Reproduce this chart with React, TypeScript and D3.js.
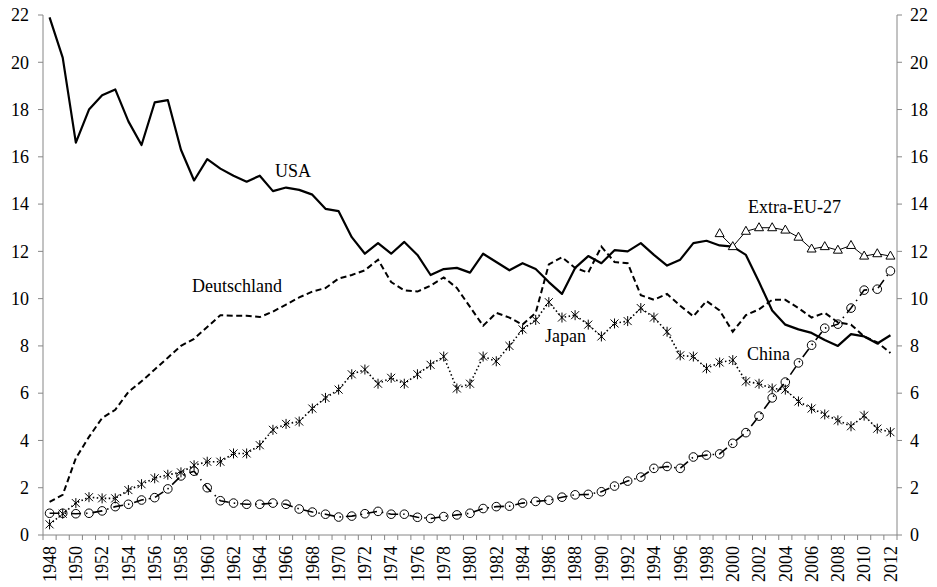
import React from 'react';
import * as d3 from 'd3';

const years = d3.range(1948, 2013);

const usa = [
  21.9, 20.2, 16.6, 18.0, 18.6, 18.85, 17.5, 16.5, 18.3, 18.4, 16.3, 15.0, 15.9, 15.5, 15.2, 14.95,
  15.2, 14.55, 14.7, 14.6, 14.4, 13.8, 13.7, 12.6, 11.9, 12.35, 11.9, 12.4, 11.85, 11.0, 11.25, 11.3,
  11.1, 11.9, 11.55, 11.2, 11.5, 11.25, 10.7, 10.2, 11.3, 11.8, 11.5, 12.05, 12.0, 12.35, 11.85, 11.4,
  11.65, 12.35, 12.45, 12.25, 12.2, 11.85, 10.7, 9.5, 8.9, 8.7, 8.55, 8.25, 8.0, 8.5, 8.4, 8.1, 8.45
];

const deutschland = [
  1.4, 1.7, 3.25, 4.15, 4.95, 5.3, 6.05, 6.5, 7.0, 7.5, 8.0, 8.3, 8.8, 9.3, 9.28, 9.28,
  9.22, 9.45, 9.75, 10.05, 10.3, 10.45, 10.85, 11.0, 11.2, 11.65, 10.7, 10.35, 10.3, 10.55, 10.9, 10.45,
  9.65, 8.85, 9.4, 9.2, 8.9, 9.4, 11.45, 11.75, 11.3, 11.1, 12.2, 11.55, 11.5, 10.15, 9.95, 10.2,
  9.7, 9.25, 9.9, 9.5, 8.6, 9.3, 9.55, 9.95, 9.95, 9.6, 9.2, 9.4, 9.0, 8.9, 8.4, 8.15, 7.7
];

const japan = [
  0.45, 0.9, 1.35, 1.6, 1.55, 1.55, 1.9, 2.15, 2.4, 2.55, 2.65, 2.95, 3.1, 3.1, 3.45, 3.45,
  3.8, 4.45, 4.7, 4.8, 5.35, 5.8, 6.15, 6.8, 7.0, 6.4, 6.65, 6.4, 6.8, 7.2, 7.55, 6.2,
  6.4, 7.55, 7.35, 8.0, 8.7, 9.1, 9.85, 9.2, 9.3, 8.9, 8.4, 8.95, 9.05, 9.6, 9.2, 8.6,
  7.6, 7.55, 7.05, 7.3, 7.4, 6.5, 6.4, 6.2, 6.15, 5.65, 5.35, 5.1, 4.85, 4.6, 5.05, 4.5, 4.35
];

const china = [
  0.92, 0.92, 0.9, 0.92, 1.02, 1.2, 1.3, 1.48, 1.58, 1.95, 2.5, 2.7, 2.0, 1.45, 1.35, 1.3,
  1.3, 1.35, 1.3, 1.1, 0.97, 0.88, 0.76, 0.8, 0.9, 1.0, 0.88, 0.88, 0.75, 0.7, 0.78, 0.85,
  0.92, 1.12, 1.2, 1.22, 1.35, 1.42, 1.47, 1.6, 1.7, 1.72, 1.83, 2.07, 2.28, 2.45, 2.82, 2.9,
  2.82, 3.3, 3.38, 3.43, 3.88, 4.33, 5.03, 5.8, 6.47, 7.28, 8.03, 8.75, 8.92, 9.6, 10.36, 10.4, 11.17
];

const extraEUYears = d3.range(1999, 2013);
const extraEU = [12.75, 12.2, 12.85, 13.0, 13.0, 12.9, 12.6, 12.1, 12.2, 12.05, 12.25, 11.8, 11.9, 11.8];

const yTicks = d3.range(0, 23, 2);
const yearLabels = years.filter(y => y % 2 === 0);

const W = 937, H = 587;
const left = 43, right = 897, top = 15, bottom = 535;
const axisColor = '#868686';
const font = '"Liberation Serif", "Times New Roman", serif';

export default function App() {
  const x = d3.scaleBand<number>().domain(years).range([left, right]).padding(0);
  const cx = (yr: number) => (x(yr) as number) + x.bandwidth() / 2;
  const y = d3.scaleLinear().domain([0, 22]).range([bottom, top]);

  const line = d3.line<[number, number]>().x(d => cx(d[0])).y(d => y(d[1]));
  const pts = (vals: number[], yrs = years) => vals.map((v, i) => [yrs[i], v] as [number, number]);

  const usaPts = pts(usa);
  const dePts = pts(deutschland);
  const jpPts = pts(japan);
  const cnPts = pts(china);
  const euPts = pts(extraEU, extraEUYears);

  // tick marks sit between the categories
  const bounds = [...years.map(yr => x(yr) as number), right];

  return (
    <svg width={W} height={H}
      style={{ position: 'absolute', left: 0, top: 0, background: '#fff', fontFamily: font }}>
      <g stroke={axisColor} strokeWidth={1} fill="none">
        <line x1={left} x2={left} y1={top} y2={bottom} />
        <line x1={right} x2={right} y1={top} y2={bottom} />
        <line x1={left} x2={right} y1={bottom} y2={bottom} />
        {yTicks.map(t => (
          <g key={t}>
            <line x1={left - 5} x2={left} y1={y(t)} y2={y(t)} />
            <line x1={right} x2={right + 5} y1={y(t)} y2={y(t)} />
          </g>
        ))}
        {bounds.map((b, i) => (
          <line key={i} x1={b} x2={b} y1={bottom} y2={bottom + 5} />
        ))}
      </g>
      <g style={{ fontSize: '18px' }} fill="#000">
        {yTicks.map(t => (
          <g key={t}>
            <text x={left - 14} y={y(t)} dy="0.35em" textAnchor="end">{t}</text>
            <text x={right + 13} y={y(t)} dy="0.35em" textAnchor="start">{t}</text>
          </g>
        ))}
        {yearLabels.map(yr => (
          <text key={yr} transform={`translate(${cx(yr)},${bottom + 11}) rotate(-90)`}
            dy="0.35em" textAnchor="end">{yr}</text>
        ))}
      </g>

      <path d={line(usaPts) || ''} fill="none" stroke="#000" strokeWidth={2.2} strokeLinejoin="round" />
      <path d={line(dePts) || ''} fill="none" stroke="#000" strokeWidth={2} strokeDasharray="6,3.5" />
      <path d={line(jpPts) || ''} fill="none" stroke="#000" strokeWidth={1.6} strokeDasharray="1.5,2.5" />
      <path d={line(cnPts) || ''} fill="none" stroke="#000" strokeWidth={1.6} strokeDasharray="10,5,1.5,5" />
      <path d={line(euPts) || ''} fill="none" stroke="#000" strokeWidth={1} />

      <g fill="none" stroke="#000" strokeWidth={1}>
        {jpPts.map((d, i) => {
          const px = cx(d[0]), py = y(d[1]), r = 4;
          return (
            <g key={i}>
              <line x1={px - r} x2={px + r} y1={py - r} y2={py + r} />
              <line x1={px - r} x2={px + r} y1={py + r} y2={py - r} />
              <line x1={px} x2={px} y1={py - r - 1} y2={py + r + 1} />
            </g>
          );
        })}
        {cnPts.map((d, i) => (
          <circle key={i} cx={cx(d[0])} cy={y(d[1])} r={4.3} />
        ))}
        {euPts.map((d, i) => {
          const px = cx(d[0]), py = y(d[1]);
          return <path key={i} d={`M${px},${py - 5}L${px + 4.5},${py + 3}L${px - 4.5},${py + 3}Z`} fill="#fff" />;
        })}
      </g>

      <g style={{ fontSize: '18px' }} fill="#000">
        <text x={275} y={177}>USA</text>
        <text x={192} y={292}>Deutschland</text>
        <text x={748} y={213}>Extra-EU-27</text>
        <text x={545} y={342}>Japan</text>
        <text x={747} y={360}>China</text>
      </g>
    </svg>
  );
}
